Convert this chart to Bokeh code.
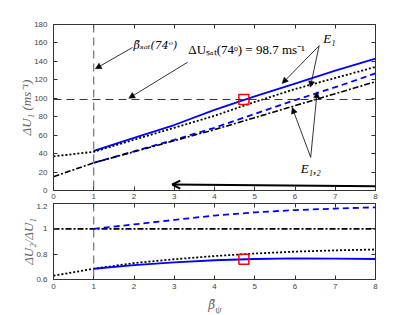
import math
from bokeh.plotting import figure
from bokeh.models import (Range1d, Span, Label, Arrow, NormalHead, OpenHead,
                          LinearAxis, CustomJSTickFormatter, FixedTicker)
from bokeh.layouts import column
from bokeh.embed import file_html
from bokeh.resources import INLINE

# ---------------- data ----------------
beta_all = [0, 1, 2, 3, 4, 5, 6, 7, 8]
beta_from1 = [1, 2, 3, 4, 5, 6, 7, 8]

# top panel: Delta U_1 (m/s)
du1_blue_solid = [43, 57, 71, 87.5, 102, 116, 130, 143]
du1_black_dotted = [37, 42, 55, 68, 81, 96, 110, 122, 134]
du1_blue_dashed = [30, 42.5, 55, 68, 83, 98, 112, 127]
du1_black_dashdot = [15, 30, 42, 54, 66, 79, 92, 105, 118]

# bottom panel: Delta U_2 / Delta U_1
ratio_blue_solid = [0.685, 0.713, 0.735, 0.752, 0.762, 0.766, 0.765, 0.762]
ratio_black_dotted = [0.63, 0.685, 0.73, 0.76, 0.785, 0.805, 0.82, 0.83, 0.837]
ratio_blue_dashed = [1.0, 1.035, 1.07, 1.105, 1.13, 1.148, 1.16, 1.17]
ratio_black_dashdot = [1.0, 1.0, 1.0, 1.0, 1.0, 1.0, 1.0, 1.0, 1.0]

beta_sat = 1.0
du_sat = 98.7
marker_beta = [4.73]
marker_du1 = [98.7]
marker_ratio = [0.76]

top_yticks = [0, 20, 40, 60, 80, 100, 120, 140, 160, 180]
bot_yticks = [0.6, 0.8, 1.0, 1.2]
xticks = [0, 1, 2, 3, 4, 5, 6, 7, 8]

# annotation arrows (tail -> head), data units of the top panel
arrow_x0 = [1.96, 3.33, 6.6, 6.6, 6.39, 6.39]
arrow_y0 = [155, 139, 157, 157, 36, 36]
arrow_x1 = [1.04, 1.87, 5.68, 6.38, 5.93, 6.55]
arrow_y1 = [132, 100, 116, 112, 90, 107]
long_arrow = dict(x0=8.0, y0=4.7, x1=2.95, y1=6.5)

BLUE = "#0000ff"
AX = "#333333"
TICKC = "#444444"
LABC = "#666666"
SERIF = "Liberation Serif"
SERIF2 = "DejaVu Serif"
SANS = "Liberation Sans"
W = 400
LEFT, RIGHT = 53, 25


def style(p, yticks, xstand, ylabel):
    p.xgrid.visible = False
    p.ygrid.visible = False
    p.outline_line_color = AX
    p.outline_line_width = 1
    p.background_fill_color = "white"
    p.border_fill_color = "white"
    p.xaxis.ticker = FixedTicker(ticks=xticks)
    p.yaxis.ticker = FixedTicker(ticks=yticks)
    for ax in p.axis:
        ax.major_tick_in = 4
        ax.major_tick_out = 0
        ax.minor_tick_line_color = None
        ax.axis_line_color = AX
        ax.major_tick_line_color = AX
        ax.major_label_text_font = SANS
        ax.major_label_text_font_size = "8px"
        ax.major_label_text_color = TICKC
    p.xaxis.major_label_standoff = xstand
    p.yaxis.major_label_standoff = 6
    p.yaxis.axis_label = ylabel
    p.yaxis.axis_label_text_font = SERIF
    p.yaxis.axis_label_text_font_style = "italic"
    p.yaxis.axis_label_text_font_size = "13px"
    p.yaxis.axis_label_text_color = LABC
    p.yaxis.axis_label_standoff = -3
    # ticks on the top and right sides (box on)
    blank = CustomJSTickFormatter(code="return ''")
    for side, tk in (("above", xticks), ("right", yticks)):
        ax = LinearAxis(ticker=FixedTicker(ticks=tk), formatter=blank,
                        major_tick_in=4, major_tick_out=0,
                        minor_tick_line_color=None, axis_line_color=AX,
                        major_tick_line_color=AX, major_label_standoff=0,
                        major_label_text_font_size="0px")
        p.add_layout(ax, side)


def txt(p, x, y, s, size="13px", style="italic", align="left", base="alphabetic",
        color="black", font=SERIF):
    p.add_layout(Label(x=x, y=y, text=s, text_font=font, text_font_size=size,
                       text_font_style=style, text_align=align, text_baseline=base,
                       text_color=color))


# ---------------- top panel ----------------
p1 = figure(width=W, height=203, output_backend="svg", toolbar_location=None,
            x_range=Range1d(0, 8), y_range=Range1d(0, 180),
            min_border_left=LEFT, min_border_right=RIGHT,
            min_border_top=24, min_border_bottom=13)
style(p1, top_yticks, 3, "ΔU₁ (ms⁻¹)")

p1.add_layout(Span(location=beta_sat, dimension="height", line_color="#555555",
                   line_dash="8 5", line_width=1))
p1.add_layout(Span(location=du_sat, dimension="width", line_color="#333333",
                   line_dash="8 5", line_width=1))

p1.line(beta_from1, du1_blue_solid, line_color=BLUE, line_width=1.8)
p1.line(beta_all, du1_black_dotted, line_color="black", line_width=1.8, line_dash="2 2")
p1.line(beta_from1, du1_blue_dashed, line_color=BLUE, line_width=1.8, line_dash="6 4")
p1.line(beta_all, du1_black_dashdot, line_color="black", line_width=1.6, line_dash="6 2 2 2")
p1.scatter(marker_beta, marker_du1, marker="square", size=10, fill_color=None,
           line_color="red", line_width=1.5)

for xs, ys, xe, ye in zip(arrow_x0, arrow_y0, arrow_x1, arrow_y1):
    p1.add_layout(Arrow(end=NormalHead(size=6, fill_color="black", line_color="black",
                                       line_width=0.5),
                        x_start=xs, y_start=ys, x_end=xe, y_end=ye,
                        line_color="black", line_width=0.8))
p1.add_layout(Arrow(end=OpenHead(size=8, line_color="black", line_width=2),
                    x_start=long_arrow["x0"], y_start=long_arrow["y0"],
                    x_end=long_arrow["x1"], y_end=long_arrow["y1"],
                    line_color="black", line_width=2))

txt(p1, 1.99, 157, "β̃ₛₐₜ(74ᵒ)", size="11px", font=SERIF2)
txt(p1, 3.35, 153, "ΔUₛₐₜ(74ᵒ) = 98.7 ms⁻¹", style="normal")
txt(p1, 6.7, 165, "E₁")
txt(p1, 6.14, 24, "E₁,₂")

# ---------------- bottom panel ----------------
p2 = figure(width=W, height=89, output_backend="svg", toolbar_location=None,
            x_range=Range1d(0, 8), y_range=Range1d(0.6, 1.2),
            min_border_left=LEFT, min_border_right=RIGHT,
            min_border_top=0, min_border_bottom=13)
style(p2, bot_yticks, 4, "ΔU₂/ΔU₁")
p2.yaxis[0].major_label_overrides = {1: "1"}

p2.add_layout(Span(location=beta_sat, dimension="height", line_color="#555555",
                   line_dash="8 5", line_width=1))
p2.line(beta_all, ratio_black_dashdot, line_color="black", line_width=1.6, line_dash="6 2 2 2")
p2.line(beta_from1, ratio_blue_dashed, line_color=BLUE, line_width=1.8, line_dash="6 4")
p2.line(beta_all, ratio_black_dotted, line_color="black", line_width=1.8, line_dash="2 2")
p2.line(beta_from1, ratio_blue_solid, line_color=BLUE, line_width=1.8)
p2.scatter(marker_beta, marker_ratio, marker="square", size=10, fill_color=None,
           line_color="red", line_width=1.5)

# ---------------- x-axis label strip ----------------
p3 = figure(width=W, height=22, output_backend="svg", toolbar_location=None,
            x_range=Range1d(0, 8), y_range=Range1d(0, 1),
            x_axis_location=None, y_axis_location=None,
            min_border_left=LEFT, min_border_right=RIGHT,
            min_border_top=0, min_border_bottom=0)
p3.xgrid.visible = False
p3.ygrid.visible = False
p3.outline_line_color = None
txt(p3, 4.02, 0.42, "β̃", size="12px", align="right", base="middle", color=LABC,
    font=SERIF2)
txt(p3, 4.02, 0.25, "ψ", size="10px", align="left", base="middle", color=LABC)

layout = column(p1, p2, p3, spacing=0)
open("out.html", "w").write(file_html(layout, INLINE))
